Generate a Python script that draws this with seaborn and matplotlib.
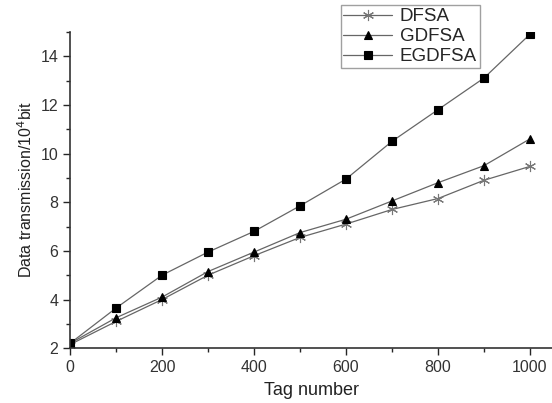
import seaborn as sns
import matplotlib.pyplot as plt
import pandas as pd

tag_number = [0, 100, 200, 300, 400, 500, 600, 700, 800, 900, 1000]
dfsa = [2.15, 3.1, 4.0, 5.0, 5.8, 6.55, 7.1, 7.7, 8.15, 8.9, 9.47]
gdfsa = [2.2, 3.25, 4.1, 5.15, 5.95, 6.75, 7.3, 8.05, 8.8, 9.5, 10.6]
egdfsa = [2.2, 3.65, 5.0, 5.95, 6.8, 7.85, 8.95, 10.5, 11.8, 13.1, 14.9]

series_names = ['DFSA', 'GDFSA', 'EGDFSA']

dados = pd.DataFrame({
    'tag': tag_number * 3,
    'valor': dfsa + gdfsa + egdfsa,
    'metodo': [n for n in series_names for _ in tag_number],
})

sns.set_style('ticks')
plt.rcParams['font.family'] = ['Liberation Sans', 'DejaVu Sans']

fig = plt.figure(figsize=(5.52, 4.03), dpi=100)
ax = fig.add_axes([0.127, 0.136, 0.873, 0.785])

marcadores = {'DFSA': (6, 2, 0), 'GDFSA': '^', 'EGDFSA': 's'}
for nome in series_names:
    sub = dados[dados['metodo'] == nome]
    cor = 'black' if nome != 'DFSA' else '#777777'
    sns.lineplot(data=sub, x='tag', y='valor', ax=ax, color='#666666', linewidth=0.9,
                 marker=marcadores[nome], markersize=5.5 if nome != 'DFSA' else 8,
                 markerfacecolor=cor, markeredgecolor=cor,
                 markeredgewidth=0.8, label=nome)

ax.set_xlim(0, 1048)
ax.set_ylim(2, 15)
ax.set_xticks(range(0, 1001, 200))
ax.set_xticks(range(100, 1001, 200), minor=True)
ax.set_yticks(range(2, 15, 2))
ax.set_yticks(range(3, 16, 2), minor=True)
ax.tick_params(axis='both', which='major', length=5, width=1, labelsize=11.5, labelcolor='#333333')
ax.tick_params(axis='both', which='minor', length=3, width=1)
for lado in ['left', 'bottom']:
    ax.spines[lado].set_color('#333333')
    ax.spines[lado].set_linewidth(1.2)
sns.despine(ax=ax)

ax.set_xlabel('Tag number', fontsize=13, color='#222222', labelpad=5)
ax.set_ylabel('Data transmission/10$^4$bit', fontsize=11.5, color='#222222', labelpad=4)

leg = ax.legend(loc='upper left', fontsize=13.5, frameon=True, fancybox=False, edgecolor='#888888',
                handlelength=2.6, borderpad=0.15, labelspacing=0.15, handletextpad=0.4)
leg.get_frame().set_linewidth(1.0)
leg.set_bbox_to_anchor((0.600, 1.01), transform=fig.transFigure)

plt.savefig('out.png', dpi=100)
plt.close()
